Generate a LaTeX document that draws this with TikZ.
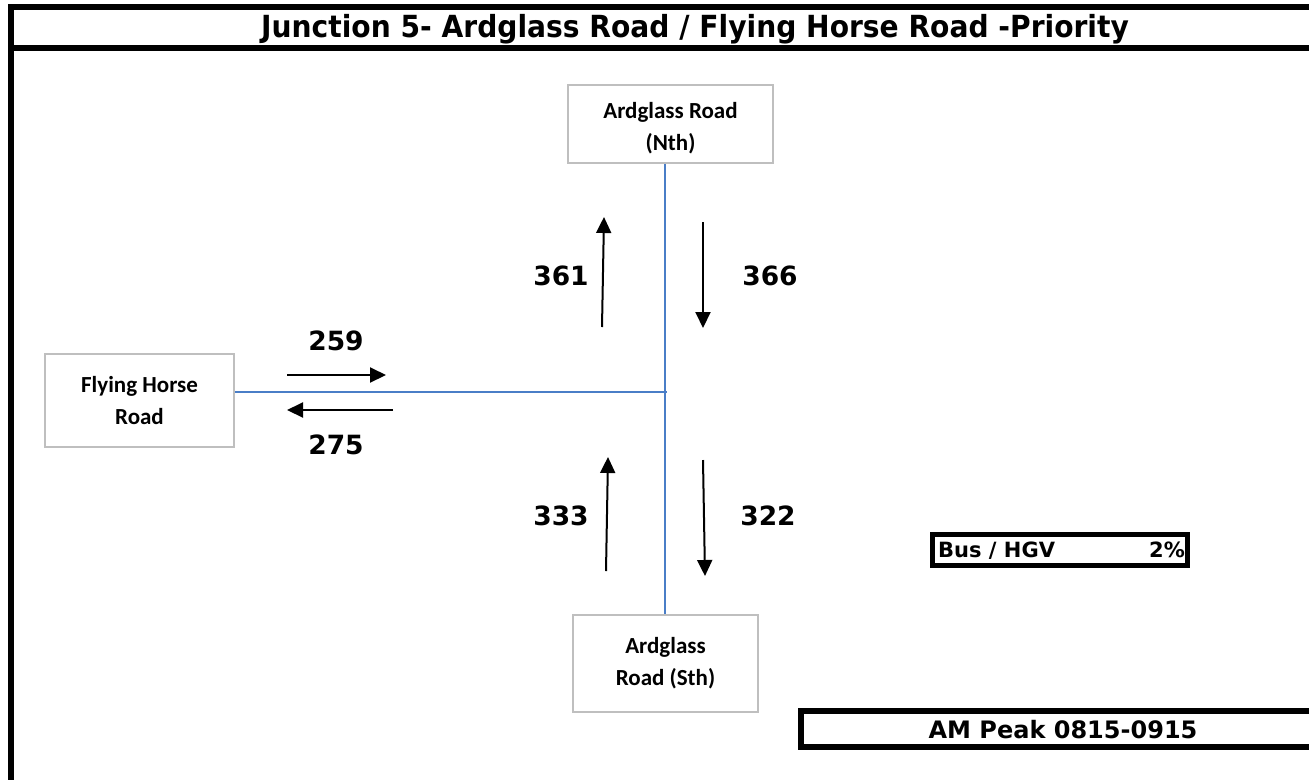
\documentclass[tikz,border=0pt]{standalone}
\usepackage{fontspec}
\setmainfont{DejaVu Sans}
\newfontfamily\calfont{Carlito}
\usetikzlibrary{arrows.meta}
\definecolor{roadblue}{HTML}{4A7EC7}
\definecolor{boxgray}{HTML}{BFBFBF}
\tikzset{
  roadbox/.style={draw=boxgray, line width=1.6pt, fill=white, align=center,
    font=\calfont\bfseries\fontsize{23}{32}\selectfont, inner sep=0pt},
  road/.style={draw=roadblue, line width=2pt},
  flow/.style={draw=black, line width=2pt, -{Triangle[length=16pt,width=15pt]}},
  count/.style={font=\bfseries\fontsize{26.5}{30}\selectfont, inner sep=0pt},
  frame/.style={draw=black, line width=6pt},
  info/.style={font=\bfseries\fontsize{21}{26}\selectfont, inner sep=0pt},
  peakfont/.style={font=\bfseries\fontsize{24}{28}\selectfont, inner sep=0pt}
}
\begin{document}
\begin{tikzpicture}[x=1pt,y=-1pt]
\useasboundingbox (0,0) rectangle (1309,780);
% outer frame lines
\draw[frame] (11,4) -- (11,780);
\draw[frame] (8,7) -- (1309,7);
\draw[frame] (8,48) -- (1309,48);
\node[anchor=base, font=\bfseries\fontsize{29}{32}\selectfont, inner sep=0pt] (title) at (695,37)
  {\scalebox{0.97}[1.05]{Junction 5- Ardglass Road / Flying Horse Road -Priority}};
% road boxes
\node[roadbox, minimum width=205pt, minimum height=78pt] (north) at (670.5,124) {\\[-8pt]Ardglass Road\\(Nth)};
\node[roadbox, minimum width=185pt, minimum height=97pt] (south) at (665.5,663.5) {Ardglass\\Road (Sth)};
\node[roadbox, minimum width=189pt, minimum height=93pt] (west) at (139.5,400.5) {Flying Horse\\Road};
% junction
\coordinate (j) at (665,392);
\draw[road] (j |- north.south) -- (j |- south.north);
\draw[road] (west.east |- j) -- ([xshift=2pt]j);
% flow arrows
\coordinate (e1) at (287,375); \coordinate (e2) at (386,375);
\coordinate (w1) at (393,410); \coordinate (w2) at (287,410);
\coordinate (nu1) at (602,327); \coordinate (nu2) at (604,217);
\coordinate (nd1) at (703,222); \coordinate (nd2) at (703,328);
\coordinate (su1) at (606,571); \coordinate (su2) at (608,457);
\coordinate (sd1) at (703,460); \coordinate (sd2) at (705,576);
\draw[flow] (e1) -- (e2);
\draw[flow] (w1) -- (w2);
\draw[flow] (nu1) -- (nu2);
\draw[flow] (nd1) -- (nd2);
\draw[flow] (su1) -- (su2);
\draw[flow] (sd1) -- (sd2);
% counts
\node[count] (c259) at (336,341) {259};
\node[count] (c275) at (336,445) {275};
\node[count] (c361) at (561,276) {361};
\node[count] (c366) at (770,276) {366};
\node[count] (c333) at (561,516) {333};
\node[count] (c322) at (768,516) {322};
% bus / hgv box
\draw[draw=black, line width=5pt] (932,534) rectangle (1187,565);
\node[info, anchor=base west] (bus) at (938,557) {Bus / HGV};
\node[info, anchor=base east] (pct) at (1185,557) {2\%};
% peak box
\draw[draw=black, line width=6pt] (801,711) rectangle (1315,747);
\node[peakfont, anchor=base] (peak) at (1063,738) {AM Peak 0815-0915};
\end{tikzpicture}
\end{document}
